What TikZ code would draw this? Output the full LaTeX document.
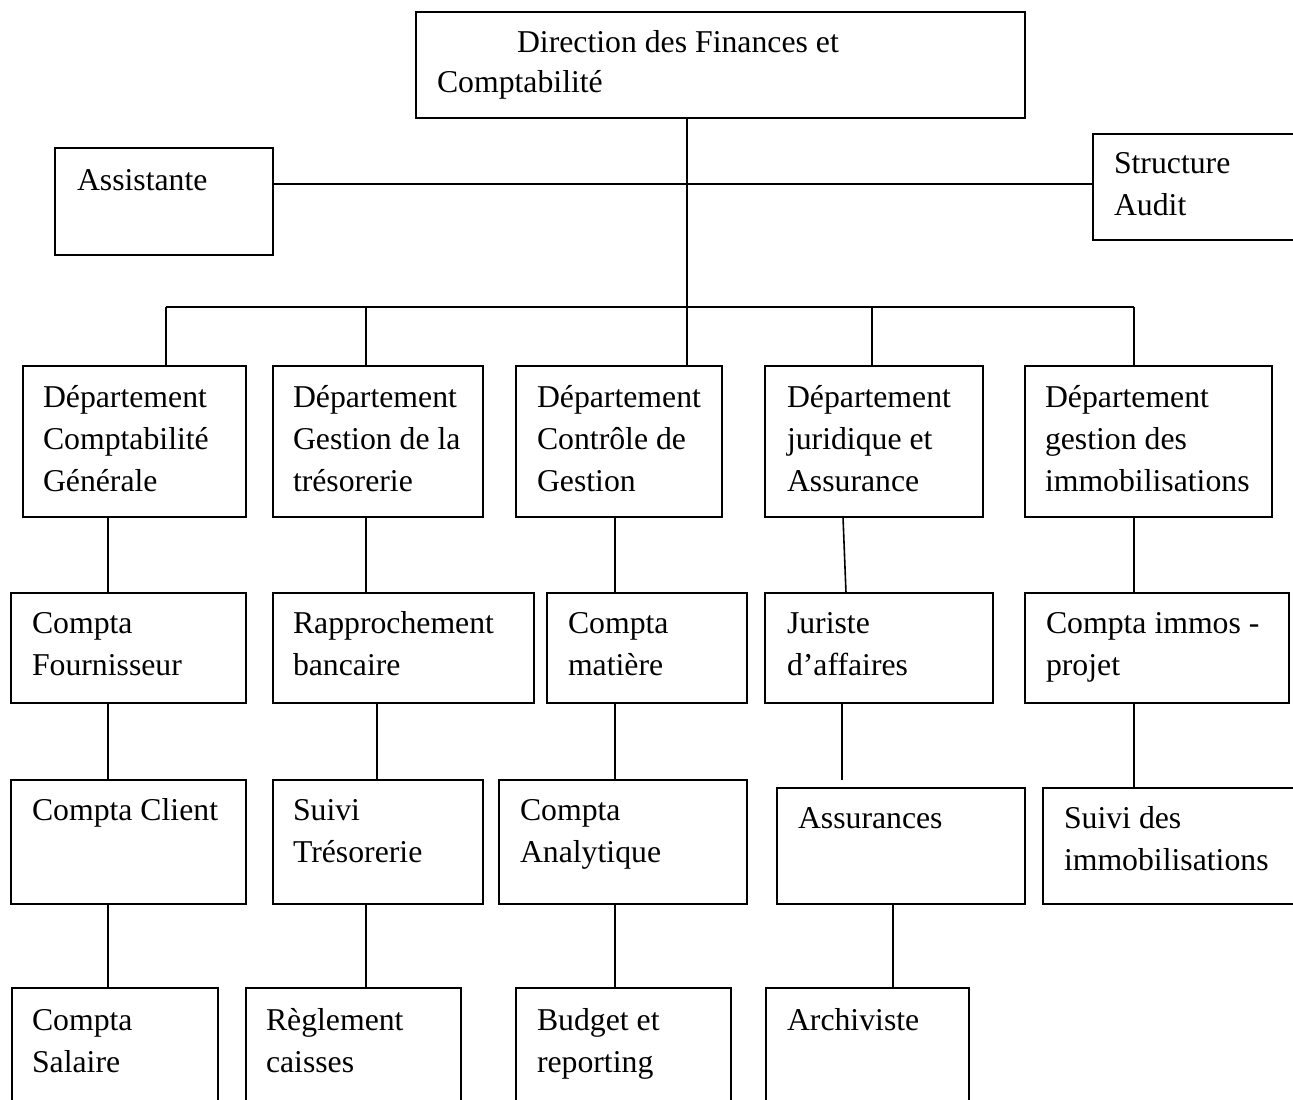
\documentclass[tikz,border=0pt]{standalone}
\usepackage{fontspec}
\setmainfont{Liberation Serif}
\begin{document}
\begin{tikzpicture}[x=1pt,y=-1pt,
  box/.style={draw=black, line width=1.6pt, inner sep=0pt, outer sep=0pt, fill=none},
  txt/.style={inner sep=0pt, outer sep=0pt, align=left, anchor=base west,
    font=\fontsize{31.75}{42}\selectfont},
  link/.style={draw=black, line width=1.6pt}]
% box from (x1,y1) to (x2,y2), y measured downwards
\newcommand\orgbox[5]{\node[box, anchor=north west,
  minimum width={(#4-#2)*1pt}, minimum height={(#5-#3)*1pt}] (#1) at (#2,#3) {};}
% vertical link at abscissa #3 from the bottom of #1 to the top of #2
\newcommand\vlink[3]{\coordinate (vx) at (#3,0);
  \draw[link] (#1.south -| vx) -- (#2.north -| vx);}
% text labels are anchored on the baseline of their last line

\useasboundingbox (0,0) rectangle (1293,1100);
\clip (0,0) rectangle (1293,1100);
\fill[white] (0,0) rectangle (1293,1100);

% --- head, assistant, audit
\orgbox{dfc}{416}{12}{1025}{118}
\node[txt] (dfct) at (437,92) {\hspace*{80pt}Direction des Finances et\\[-2pt]Comptabilité};
\orgbox{asst}{55}{148}{273}{255}
\node[txt] (asstt) at (77,190) {Assistante};
\orgbox{audit}{1093}{134}{1340}{240}
\node[txt] (auditt) at (1114,215) {Structure\\Audit};

% --- departments
\orgbox{d1}{23}{366}{246}{517}
\node[txt] (d1t) at (43,491) {Département\\Comptabilité\\Générale};
\orgbox{d2}{273}{366}{483}{517}
\node[txt] (d2t) at (293,491) {Département\\Gestion de la\\trésorerie};
\orgbox{d3}{516}{366}{722}{517}
\node[txt] (d3t) at (537,491) {Département\\Contrôle de\\Gestion};
\orgbox{d4}{765}{366}{983}{517}
\node[txt] (d4t) at (787,491) {Département\\juridique et\\Assurance};
\orgbox{d5}{1025}{366}{1272}{517}
\node[txt] (d5t) at (1045,491) {Département\\gestion des\\immobilisations};

% --- second level
\orgbox{r1}{11}{593}{246}{703}
\node[txt] (r1t) at (32,675) {Compta\\Fournisseur};
\orgbox{r2}{273}{593}{534}{703}
\node[txt] (r2t) at (293,675) {Rapprochement\\bancaire};
\orgbox{r3}{547}{593}{747}{703}
\node[txt] (r3t) at (568,675) {Compta\\matière};
\orgbox{r4}{765}{593}{993}{703}
\node[txt] (r4t) at (787,675) {Juriste\\d’affaires};
\orgbox{r5}{1025}{593}{1289}{703}
\node[txt] (r5t) at (1046,675) {Compta immos -\\projet};

% --- third level
\orgbox{c1}{11}{780}{246}{904}
\node[txt] (c1t) at (32,820) {Compta Client};
\orgbox{c2}{273}{780}{483}{904}
\node[txt] (c2t) at (293,862) {Suivi\\Trésorerie};
\orgbox{c3}{499}{780}{747}{904}
\node[txt] (c3t) at (520,862) {Compta\\Analytique};
\orgbox{c4}{777}{788}{1025}{904}
\node[txt] (c4t) at (798,828) {Assurances};
\orgbox{c5}{1043}{788}{1340}{904}
\node[txt] (c5t) at (1064,870) {Suivi des\\immobilisations};

% --- fourth level
\orgbox{b1}{12}{988}{218}{1140}
\node[txt] (b1t) at (32,1072) {Compta\\Salaire};
\orgbox{b2}{246}{988}{461}{1140}
\node[txt] (b2t) at (266,1072) {Règlement\\caisses};
\orgbox{b3}{516}{988}{731}{1140}
\node[txt] (b3t) at (537,1072) {Budget et\\reporting};
\orgbox{b4}{766}{988}{969}{1140}
\node[txt] (b4t) at (787,1030) {Archiviste};

% --- staff line
\coordinate (staff) at (0,184);
\draw[link] (asst.east |- staff) -- (audit.west |- staff);

% --- trunk and bus
\coordinate (hub) at (687,307);
\coordinate (busL) at (166,307);
\coordinate (busR) at (1134,307);
\draw[link] (dfc.south -| hub) -- (hub);
\draw[link] (busL) -- (busR);
\draw[link] (busL) -- (d1.north -| busL);
\coordinate (k2) at (366,307);
\draw[link] (k2) -- (d2.north -| k2);
\draw[link] (hub) -- (d3.north -| hub);
\coordinate (k4) at (872,307);
\draw[link] (k4) -- (d4.north -| k4);
\draw[link] (busR) -- (d5.north -| busR);

% --- column links
\vlink{d1}{r1}{108}
\vlink{r1}{c1}{108}
\vlink{c1}{b1}{108}
\vlink{d2}{r2}{366}
\vlink{r2}{c2}{377}
\vlink{c2}{b2}{366}
\vlink{d3}{r3}{615}
\vlink{r3}{c3}{615}
\vlink{c3}{b3}{615}
\coordinate (j1) at (843,0);
\coordinate (j2) at (846,0);
\draw[link] (d4.south -| j1) -- (r4.north -| j2);
\coordinate (jend) at (842,780);
\draw[link] (r4.south -| jend) -- (jend);
\vlink{c4}{b4}{893}
\vlink{d5}{r5}{1134}
\vlink{r5}{c5}{1134}
\end{tikzpicture}
\end{document}
